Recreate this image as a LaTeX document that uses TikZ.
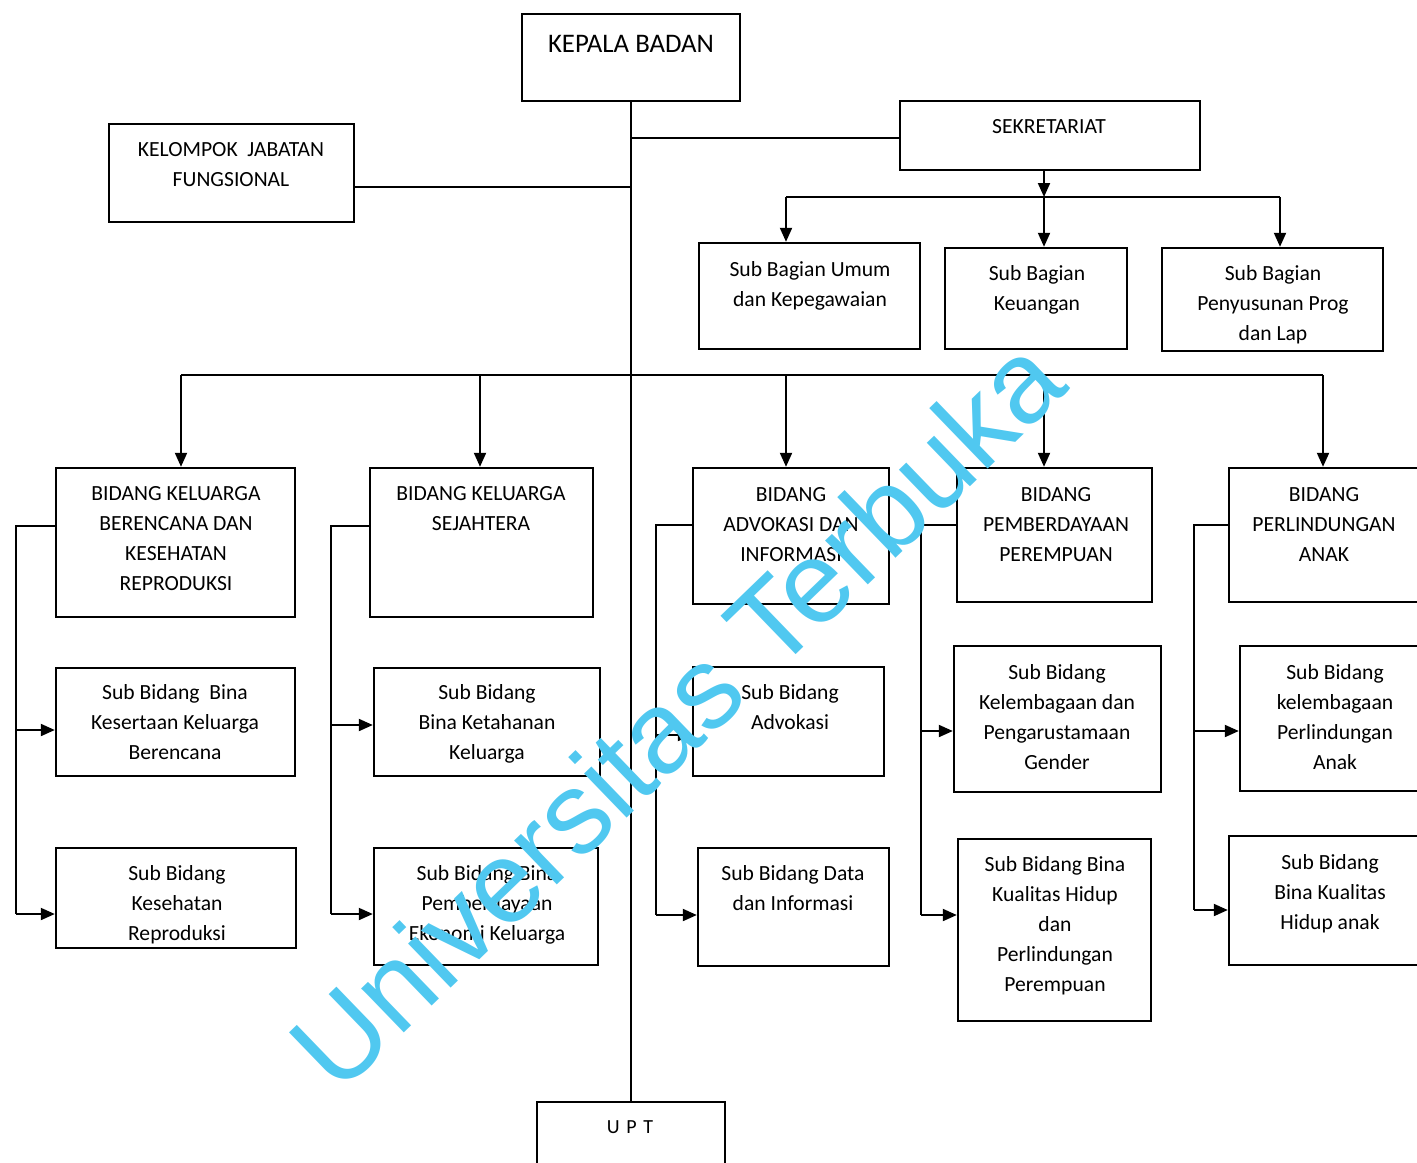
\documentclass[tikz,border=0pt]{standalone}
\usepackage{fontspec}
\setmainfont{Carlito}
\newfontfamily\wmfont{Liberation Sans}
\usetikzlibrary{arrows.meta,fit}
\definecolor{wmcol}{RGB}{80,200,240}
\begin{document}
\begin{tikzpicture}[x=0.5pt,y=-0.5pt,
  box/.style={draw, line width=1.2pt, inner sep=0pt},
  txt/.style={align=center, inner sep=0pt, anchor=base, font=\fontsize{10.8}{15}\selectfont},
  ln/.style={line width=1pt},
  arr/.style={ln, -{Triangle[length=7pt,width=6pt]}},
  wm/.style={text=wmcol, font=\wmfont\fontsize{58}{60}\selectfont, inner sep=0pt}]
\clip (0,0) rectangle (1417,1162);
% ---- boxes
\node[box, fit={(522,14) (740,101)}] (KB) {};
\node[box, fit={(109,124) (354,222)}] (KJF) {};
\node[box, fit={(900,101) (1200,170)}] (SEK) {};
\node[box, fit={(699,243) (920,349)}] (sbU) {};
\node[box, fit={(945,248) (1127,349)}] (sbK) {};
\node[box, fit={(1162,248) (1383,351)}] (sbP) {};
\node[box, fit={(56,468) (295,617)}] (b1) {};
\node[box, fit={(370,468) (593,617)}] (b2) {};
\node[box, fit={(693,468) (889,604)}] (b3) {};
\node[box, fit={(957,468) (1152,602)}] (b4) {};
\node[box, fit={(1229,468) (1418,602)}] (b5) {};
\node[box, fit={(56,668) (295,776)}] (c1a) {};
\node[box, fit={(56,848) (296,948)}] (c1b) {};
\node[box, fit={(374,668) (600,776)}] (c2a) {};
\node[box, fit={(374,848) (598,965)}] (c2b) {};
\node[box, fit={(693,667) (884,776)}] (c3a) {};
\node[box, fit={(698,848) (889,966)}] (c3b) {};
\node[box, fit={(954,646) (1161,792)}] (c4a) {};
\node[box, fit={(958,839) (1151,1021)}] (c4b) {};
\node[box, fit={(1240,646) (1420,791)}] (c5a) {};
\node[box, fit={(1229,836) (1420,965)}] (c5b) {};
\node[box, fit={(537,1102) (725,1175)}] (UPT) {};
% ---- texts (anchor = baseline of last line)
\node[txt, font=\fontsize{13.4}{15}\selectfont] (KBt) at (631,52) {KEPALA BADAN};
\node[txt] (KJFt) at (231,186) {KELOMPOK\ \ JABATAN\\FUNGSIONAL};
\node[txt] (SEKt) at (1049,133) {SEKRETARIAT};
\node[txt] (sbUt) at (810,306) {Sub Bagian Umum\\dan Kepegawaian};
\node[txt] (sbKt) at (1037,310) {Sub Bagian\\Keuangan};
\node[txt] (sbPt) at (1273,340) {Sub Bagian\\Penyusunan Prog\\dan Lap};
\node[txt] (b1t) at (176,590) {BIDANG KELUARGA\\BERENCANA DAN\\KESEHATAN\\REPRODUKSI};
\node[txt] (b2t) at (481,530) {BIDANG KELUARGA\\SEJAHTERA};
\node[txt] (b3t) at (791,561) {BIDANG\\ADVOKASI DAN\\INFORMASI};
\node[txt] (b4t) at (1056,561) {BIDANG\\PEMBERDAYAAN\\PEREMPUAN};
\node[txt] (b5t) at (1324,561) {BIDANG\\PERLINDUNGAN\\ANAK};
\node[txt] (c1at) at (175,759) {Sub Bidang\ \ Bina\\Kesertaan Keluarga\\Berencana};
\node[txt] (c1bt) at (177,940) {Sub Bidang\\Kesehatan\\Reproduksi};
\node[txt] (c2at) at (487,759) {Sub Bidang\\Bina Ketahanan\\Keluarga};
\node[txt] (c2bt) at (487,940) {Sub Bidang Bina\\Pemberdayaan\\Ekonomi Keluarga};
\node[txt] (c3at) at (790,729) {Sub Bidang\\Advokasi};
\node[txt] (c3bt) at (793,910) {Sub Bidang Data\\dan Informasi};
\node[txt] (c4at) at (1057,769) {Sub Bidang\\Kelembagaan dan\\Pengarustamaan\\Gender};
\node[txt] (c4bt) at (1055,991) {Sub Bidang Bina\\Kualitas Hidup\\dan\\Perlindungan\\Perempuan};
\node[txt] (c5at) at (1335,769) {Sub Bidang\\kelembagaan\\Perlindungan\\Anak};
\node[txt] (c5bt) at (1330,929) {Sub Bidang\\Bina Kualitas\\Hidup anak};
\node[txt, font=\fontsize{10}{15}\selectfont] (UPTt) at (630,1133) {U\,\,P\,\,T};
% ---- spine
\draw[ln] (KB.south) -- (UPT.north);
\draw[ln] ([yshift=-7pt]KJF.east) -- ([yshift=-7pt]KJF.east -| KB.south);
\draw[ln] ([yshift=-1.2pt]SEK.west) -- ([yshift=-1.2pt]SEK.west -| KB.south);
% ---- sekretariat branch
\coordinate (xU) at (786,197);
\coordinate (xK) at (1044,197);
\coordinate (xP) at (1280,197);
\draw[arr] (xK |- SEK.south) -- (xK);
\draw[ln] (xU) -- (xP);
\draw[arr] (xU) -- (xU |- sbU.north);
\draw[arr] (xK) -- (xK |- sbK.north);
\draw[arr] (xP) -- (xP |- sbP.north);
% ---- main branch
\coordinate (m1) at (181,375);
\coordinate (m2) at (480,375);
\coordinate (m3) at (786,375);
\coordinate (m4) at (1044,375);
\coordinate (m5) at (1323,375);
\draw[ln] (m1) -- (m5);
\foreach \m/\b in {m1/b1,m2/b2,m3/b3,m4/b4,m5/b5}
  \draw[arr] (\m) -- (\m |- \b.north);
% ---- side branches
\coordinate (s1) at (16,526);   \coordinate (s1a) at (16,730);   \coordinate (s1b) at (16,914);
\coordinate (s2) at (331,526);  \coordinate (s2a) at (331,725);  \coordinate (s2b) at (331,914);
\coordinate (s3) at (656,525);  \coordinate (s3a) at (656,735);  \coordinate (s3b) at (656,915);
\coordinate (s4) at (921,525);  \coordinate (s4a) at (921,731);  \coordinate (s4b) at (921,915);
\coordinate (s5) at (1194,525); \coordinate (s5a) at (1194,731); \coordinate (s5b) at (1194,910);
\foreach \s/\b/\ca/\cb in {s1/b1/c1a/c1b, s2/b2/c2a/c2b, s3/b3/c3a/c3b, s4/b4/c4a/c4b, s5/b5/c5a/c5b}{
  \draw[ln] (\s -| \b.west) -- (\s) -- (\s b);
  \draw[arr] (\s a) -- (\s a -| \ca.west);
  \draw[arr] (\s b) -- (\s b -| \cb.west);
}
% ---- watermark
\node[wm, rotate=44] (wm) at (676,713) {Universitas Terbuka};
\end{tikzpicture}
\end{document}
